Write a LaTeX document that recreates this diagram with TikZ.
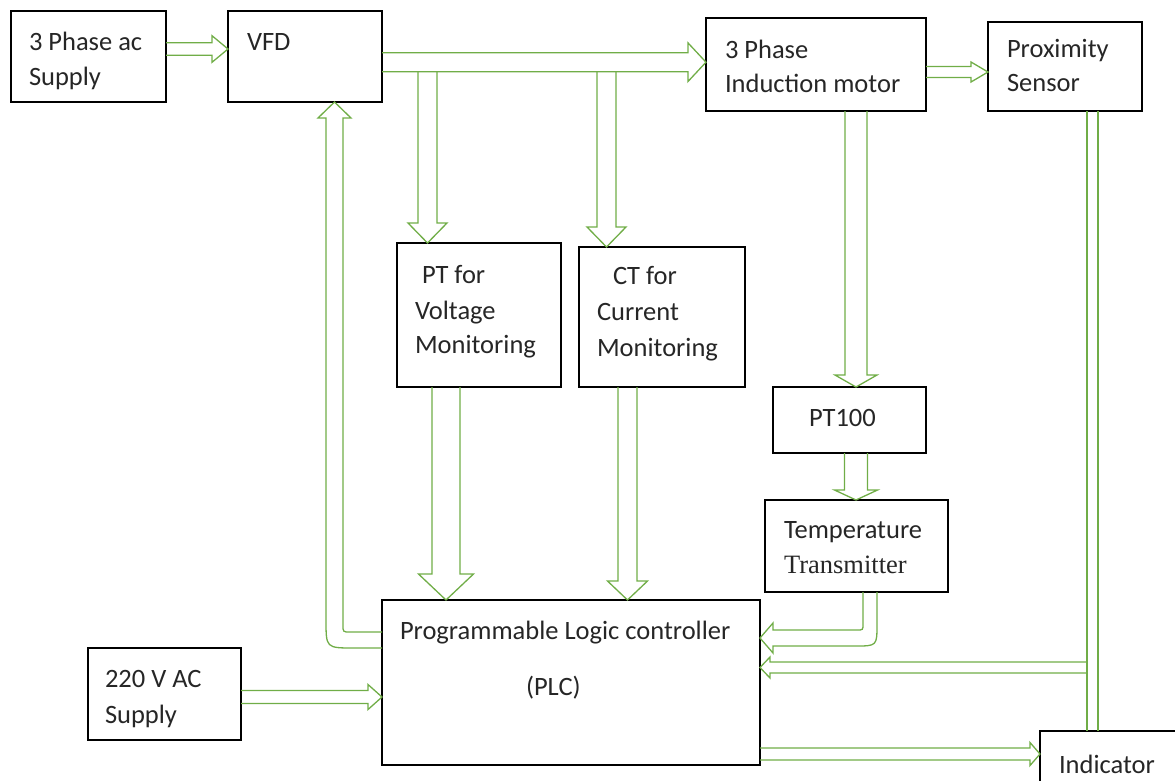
\documentclass[tikz,border=0pt]{standalone}
\usepackage{fontspec}
\setmainfont{Carlito}
\newfontfamily\seriffont{Liberation Serif}
\usetikzlibrary{calc}
\definecolor{arrgreen}{RGB}{112,173,71}
\newcommand\arrR[5]{\draw[blk] let \p1=(#1),\p2=(#2) in (\x1,\y1+#3) -- (\x2-#5,\y1+#3) -- (\x2-#5,\y1+#4) -- (\x2,\y2) -- (\x2-#5,\y1-#4) -- (\x2-#5,\y1-#3) -- (\x1,\y1-#3);}
\newcommand\arrL[5]{\draw[blk] let \p1=(#1),\p2=(#2) in (\x1,\y1+#3) -- (\x2+#5,\y1+#3) -- (\x2+#5,\y1+#4) -- (\x2,\y2) -- (\x2+#5,\y1-#4) -- (\x2+#5,\y1-#3) -- (\x1,\y1-#3);}
\newcommand\arrD[5]{\draw[blk] let \p1=(#1),\p2=(#2) in (\x1-#3,\y1) -- (\x1-#3,\y2+#5) -- (\x1-#4,\y2+#5) -- (\x2,\y2) -- (\x1+#4,\y2+#5) -- (\x1+#3,\y2+#5) -- (\x1+#3,\y1);}
\begin{document}
\begin{tikzpicture}[x=1pt,y=-1pt,
  box/.style={draw=black, line width=1.5pt, inner sep=0pt, outer sep=0pt, anchor=north west},
  lbl/.style={anchor=base west, inner sep=0pt, outer sep=0pt, text=black!85, font=\fontsize{26.5}{31}\selectfont},
  blk/.style={draw=arrgreen, line width=1.3pt, line join=miter}]
\useasboundingbox (0,0) rectangle (1175,780);
\clip (0,0) rectangle (1175,780);
% boxes
\node[box, minimum width=155pt, minimum height=91pt] (s3) at (11,11) {};
\node[box, minimum width=154pt, minimum height=91pt] (vfd) at (228,11) {};
\node[box, minimum width=220pt, minimum height=93pt] (mot) at (706,18) {};
\node[box, minimum width=154pt, minimum height=89pt] (prox) at (988,22) {};
\node[box, minimum width=164pt, minimum height=144pt] (pt) at (397,243) {};
\node[box, minimum width=166pt, minimum height=140pt] (ct) at (579,247) {};
\node[box, minimum width=153pt, minimum height=66pt] (pt100) at (773,387) {};
\node[box, minimum width=183pt, minimum height=92pt] (tt) at (765,500) {};
\node[box, minimum width=378pt, minimum height=165pt] (plc) at (382,600) {};
\node[box, minimum width=153pt, minimum height=92pt] (ac) at (88,648) {};
\node[box, minimum width=200pt, minimum height=100pt] (ind) at (1040,731) {};
% labels
\node[lbl] (l1) at (29,50) {3 Phase ac};
\node[lbl] (l2) at (29,85) {Supply};
\node[lbl] (l3) at (247,50) {VFD};
\node[lbl] (l4) at (725,58) {3 Phase};
\node[lbl] (l5) at (725,92) {Induction motor};
\node[lbl] (l6) at (1007,57) {Proximity};
\node[lbl] (l7) at (1007,91) {Sensor};
\node[lbl] (l8) at (422,283) {PT for};
\node[lbl] (l9) at (415,319) {Voltage};
\node[lbl] (l10) at (415,353) {Monitoring};
\node[lbl] (l11) at (613,284) {CT for};
\node[lbl] (l12) at (597,320) {Current};
\node[lbl] (l13) at (597,356) {Monitoring};
\node[lbl] (l14) at (809,426) {PT100};
\node[lbl] (l15) at (784,538) {Temperature};
\node[lbl, font=\seriffont\fontsize{26.5}{31}\selectfont] (l16) at (784,573) {Transmitter};
\node[lbl] (l17) at (400,639) {Programmable Logic controller};
\node[lbl] (l18) at (526,695) {(PLC)};
\node[lbl] (l19) at (105,687) {220 V AC};
\node[lbl] (l20) at (105,723) {Supply};
\node[lbl] (l21) at (1059,773) {Indicator};
% junction coordinates
\coordinate (j1) at (427.5,71.7);
\coordinate (j2) at (606.5,71.7);
\coordinate (pj) at (1092.5,111);
\coordinate (k1) at (1087,667.5);
% straight block arrows
\arrR{s3.east |- 0,49}{vfd.west |- 0,49}{6.2pt}{13.3pt}{16pt}
\arrR{vfd.east |- 0,62.2}{mot.west |- 0,62.2}{9.5pt}{19.3pt}{18pt}
\arrD{j1}{j1 |- pt.north}{9.5pt}{19.5pt}{20pt}
\arrD{j2}{j2 |- ct.north}{9.5pt}{19.5pt}{20pt}
\arrR{mot.east |- 0,72}{prox.west |- 0,72}{5.5pt}{10pt}{17pt}
\arrD{856,0 |- mot.south}{856,0 |- pt100.north}{11pt}{21pt}{12pt}
\arrD{856,0 |- pt100.south}{856,0 |- tt.north}{11.5pt}{21.5pt}{10pt}
\arrD{446,0 |- pt.south}{446,0 |- plc.north}{14pt}{27.5pt}{26pt}
\arrD{627.5,0 |- ct.south}{627.5,0 |- plc.north}{9.5pt}{20pt}{19pt}
\arrR{plc.east |- 0,754}{ind.west |- 0,754}{6pt}{11.5pt}{10pt}
\arrR{ac.east |- 0,697}{plc.west |- 0,697}{6.5pt}{12.5pt}{14pt}
\arrL{k1}{plc.east |- 0,667.5}{5.5pt}{10.5pt}{10pt}
% proximity sensor double line to indicator
\draw[blk] ($(pj)+(-5.5,0)$) -- ($(pj |- ind.north)+(-5.5,0)$);
\draw[blk] ($(pj)+(5.5,0)$) -- ($(pj |- ind.north)+(5.5,0)$);
% temperature transmitter -> PLC (elbow)
\coordinate (t1) at (870,0 |- tt.south);
\coordinate (t2) at (plc.east |- 0,638);
\draw[blk] let \p1=(t1), \p2=(t2) in
  (\x1+7pt,\y1) -- (\x1+7pt,\y2+14pt) .. controls (\x1+7pt,\y2-8pt) .. (\x1-15pt,\y2-8pt)
  -- (\x2+13pt,\y2-8pt) -- (\x2+13pt,\y2-15pt) -- (\x2,\y2) -- (\x2+13pt,\y2+15pt)
  -- (\x2+13pt,\y2+8pt) -- (\x1-13pt,\y2+8pt) .. controls (\x1-7pt,\y2+8pt) .. (\x1-7pt,\y2+14pt)
  -- (\x1-7pt,\y1);
% PLC -> VFD (elbow)
\coordinate (v1) at (plc.west |- 0,640);
\coordinate (v2) at (334.5,0 |- vfd.south);
\draw[blk] let \p1=(v1), \p2=(v2) in
  (\x1,\y1+8pt) -- (\x2+15.5pt,\y1+8pt) .. controls (\x2+8.5pt,\y1+8pt) .. (\x2+8.5pt,\y1+15pt)
  -- (\x2+8.5pt,\y2-16pt) -- (\x2+16.5pt,\y2-16pt) -- (\x2,\y2) -- (\x2-16.5pt,\y2-16pt)
  -- (\x2-8.5pt,\y2-16pt) -- (\x2-8.5pt,\y1+20pt) .. controls (\x2-8.5pt,\y1-8pt) .. (\x2+19.5pt,\y1-8pt)
  -- (\x1,\y1-8pt);
\end{tikzpicture}
\end{document}
